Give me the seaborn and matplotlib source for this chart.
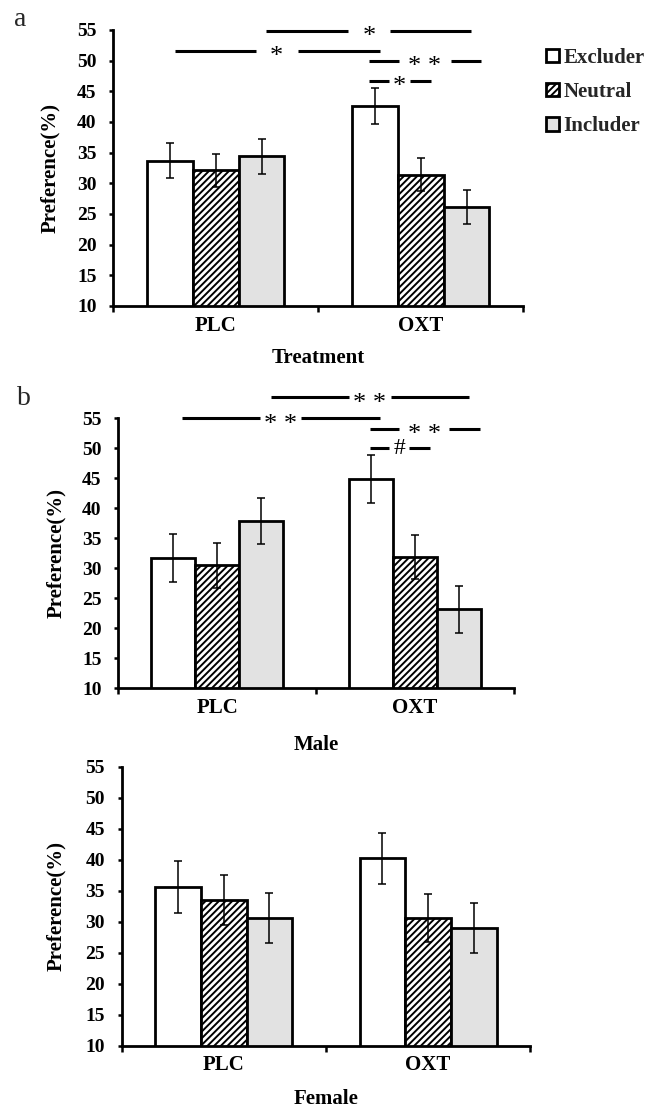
import numpy as np
import pandas as pd
import matplotlib
matplotlib.use("Agg")
import matplotlib.pyplot as plt
from matplotlib.container import BarContainer
import seaborn as sns

# ---------------- data ----------------
treatments = ["PLC", "OXT"]
types = ["Excluder", "Neutral", "Includer"]
yticks = [10, 15, 20, 25, 30, 35, 40, 45, 50, 55]

# panel a (Treatment)
a_excluder = [33.7, 42.6]
a_neutral = [32.1, 31.4]
a_includer = [34.4, 26.1]
a_err_excluder = [2.9, 2.9]
a_err_neutral = [2.7, 2.7]
a_err_includer = [2.8, 2.8]

# panel b (Male)
male_excluder = [31.7, 44.9]
male_neutral = [30.5, 31.9]
male_includer = [37.9, 23.2]
male_err_excluder = [4.0, 4.0]
male_err_neutral = [3.7, 3.7]
male_err_includer = [3.9, 3.9]

# panel b (Female)
female_excluder = [35.6, 40.2]
female_neutral = [33.5, 30.6]
female_includer = [30.6, 29.0]
female_err_excluder = [4.2, 4.1]
female_err_neutral = [4.0, 3.8]
female_err_includer = [4.0, 4.0]

# significance brackets: (x start, gap start, gap end, x end, y, label)
a_sig = [(0.247, 0.645, 0.849, 1.247, 54.9, "*"),
         (-0.200, 0.194, 0.401, 0.800, 51.6, "*"),
         (0.748, 0.894, 1.145, 1.296, 50.0, "* *"),
         (0.748, 0.845, 0.946, 1.049, 46.7, "*")]
male_sig = [(0.271, 0.667, 0.878, 1.274, 58.5, "* *"),
            (-0.178, 0.217, 0.423, 0.824, 55.0, "* *"),
            (0.774, 0.920, 1.173, 1.328, 53.3, "* *"),
            (0.774, 0.870, 0.971, 1.075, 50.0, "#")]
female_sig = []

# ---------------- style ----------------
sns.set_style("white")
plt.rcParams["font.family"] = ["Liberation Serif", "DejaVu Serif"]
plt.rcParams["font.weight"] = "bold"
plt.rcParams["hatch.linewidth"] = 1.4

faces = ["white", "white", "#e2e2e2"]
hatches = [None, "/////", None]

W, H = 650, 1107
fig = plt.figure(figsize=(W / 100, H / 100), dpi=100)


def panel(rect_px, exc, neu, inc, errs, xlabel, sig, ylab_x, xlab_y):
    left, top, right, bottom = rect_px
    ax = fig.add_axes([left / W, 1 - bottom / H, (right - left) / W, (bottom - top) / H])
    df = pd.DataFrame({
        "treatment": treatments * 3,
        "type": np.repeat(types, len(treatments)),
        "pref": list(exc) + list(neu) + list(inc),
    })
    sns.barplot(data=df, x="treatment", y="pref", hue="type", order=treatments,
                hue_order=types, palette=faces, saturation=1, width=0.67,
                errorbar=None, legend=False, edgecolor="black", linewidth=2.0, ax=ax)
    bar_conts = [c for c in ax.containers if isinstance(c, BarContainer)]
    for cont, hatch, err in zip(bar_conts, hatches, errs):
        for bar in cont:
            if hatch:
                bar.set_hatch(hatch)
        xs = [b.get_x() + b.get_width() / 2 for b in cont]
        ys = [b.get_height() for b in cont]
        ax.errorbar(xs, ys, yerr=err, fmt="none", ecolor="black", elinewidth=1.1,
                    capsize=3, capthick=1.1, zorder=5)
    ax.set_xlim(-0.5, 1.5)
    ax.set_ylim(10, 55)
    ax.set_yticks(yticks)
    ax.set_yticklabels([str(t) for t in yticks])
    ax.set_xticks([0, 1])
    ax.set_xticklabels(treatments)
    ax.set_xticks([-0.5, 0.5, 1.5], minor=True)
    sns.despine(ax=ax)
    for s in ("left", "bottom"):
        ax.spines[s].set_linewidth(2.0)
        ax.spines[s].set_color("black")
    ax.tick_params(axis="y", direction="out", length=3, width=1.8, pad=9,
                   labelsize=14, colors="black", left=True)
    ax.tick_params(axis="x", which="major", length=0, pad=7, labelsize=15, colors="black")
    ax.tick_params(axis="x", which="minor", length=4, width=1.8, direction="out",
                   bottom=True, colors="black")
    ax.set_ylabel("Preference(%)", fontsize=15, fontweight="bold", color="black")
    ax.yaxis.set_label_coords(ylab_x, 0.5)
    ax.set_xlabel(xlabel, fontsize=15, fontweight="bold", color="black")
    ax.xaxis.set_label_coords(0.5, xlab_y)
    for x0, g0, g1, x1, y, lab in sig:
        ax.plot([x0, g0], [y, y], color="black", lw=2.2, clip_on=False,
                solid_capstyle="butt", zorder=6)
        ax.plot([g1, x1], [y, y], color="black", lw=2.2, clip_on=False,
                solid_capstyle="butt", zorder=6)
        is_star = "*" in lab
        ax.annotate(lab, ((g0 + g1) / 2, y), xytext=(0, -4.5 if is_star else 0),
                    textcoords="offset points", ha="center", va="center",
                    fontsize=19 if is_star else 17, fontweight="normal",
                    color="black", annotation_clip=False, zorder=6)
    return ax, bar_conts


ax_a, conts_a = panel((113.3, 30, 523.3, 306), a_excluder, a_neutral, a_includer,
                      [a_err_excluder, a_err_neutral, a_err_includer], "Treatment", a_sig,
                      -0.13, -0.152)
ax_m, _ = panel((118.3, 418.3, 513.9, 688.3), male_excluder, male_neutral, male_includer,
                [male_err_excluder, male_err_neutral, male_err_includer], "Male", male_sig,
                -0.132, -0.173)
ax_f, _ = panel((121.5, 766.7, 530.3, 1045.7), female_excluder, female_neutral, female_includer,
                [female_err_excluder, female_err_neutral, female_err_includer], "Female",
                female_sig, -0.136, -0.154)

handles = [c.patches[0] for c in conts_a]
fig.legend(handles, types, loc="upper left", bbox_to_anchor=(546 / W, 1 - 48 / H),
           frameon=False, prop={"size": 15, "weight": "bold"}, handlelength=0.6,
           handleheight=0.6, handletextpad=0.25, labelspacing=0.68, borderpad=0,
           borderaxespad=0)

fig.text(14 / W, 1 - 26 / H, "a", fontsize=20, fontweight="normal", va="baseline")
fig.text(17 / W, 1 - 405 / H, "b", fontsize=20, fontweight="normal", va="baseline")

fig.savefig("out.png", dpi=100, facecolor="white")
